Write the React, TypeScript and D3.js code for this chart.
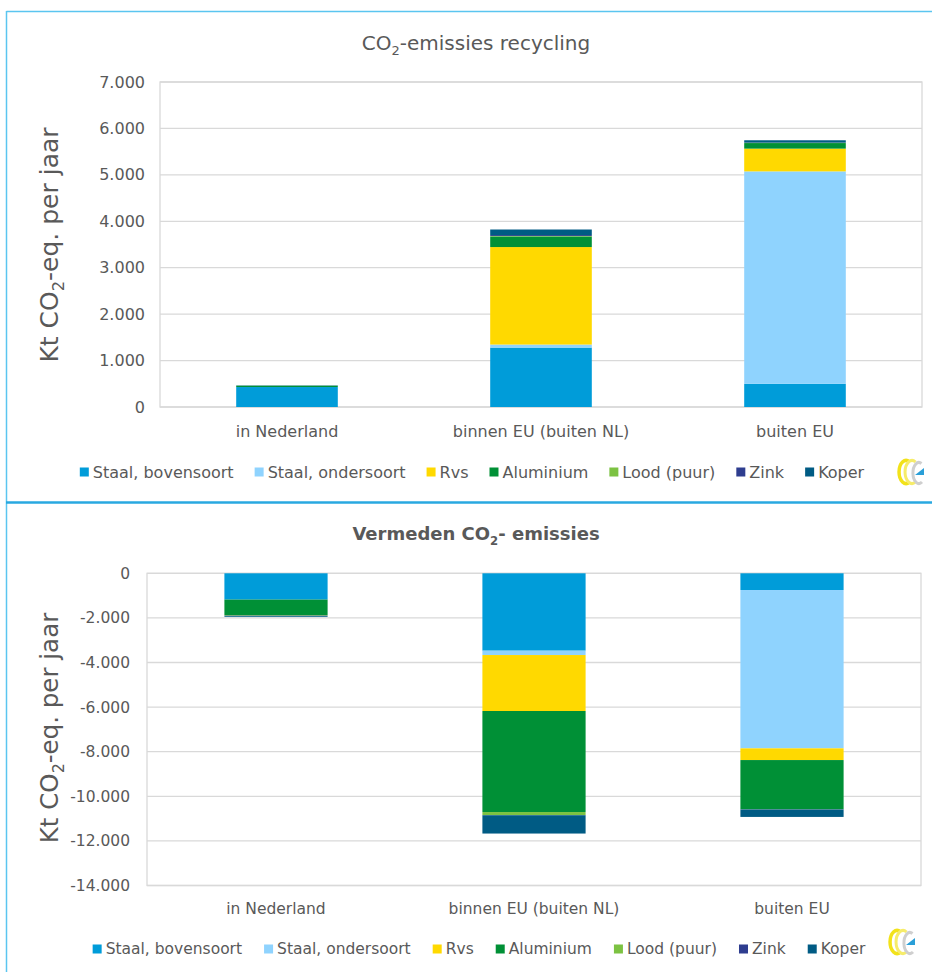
import React, { useEffect, useRef } from "react";
import * as d3 from "d3";

const categories = ["in Nederland", "binnen EU (buiten NL)", "buiten EU"];
const seriesNames = ["Staal, bovensoort", "Staal, ondersoort", "Rvs", "Aluminium", "Lood (puur)", "Zink", "Koper"];
const seriesColors = ["#009cd9", "#8fd3fe", "#ffd900", "#009036", "#7cc242", "#2e3d8f", "#005b84"];

// Top chart: CO2-emissies recycling (kt CO2-eq per jaar)
const recStaalBoven = [430, 1280, 500];
const recStaalOnder = [0, 65, 4575];
const recRvs = [0, 2100, 490];
const recAluminium = [30, 228, 120];
const recLood = [0, 10, 5];
const recZink = [0, 20, 5];
const recKoper = [5, 120, 50];
const recTicks = [0, 1000, 2000, 3000, 4000, 5000, 6000, 7000];

// Bottom chart: Vermeden CO2-emissies
const avStaalBoven = [-1180, -3470, -750];
const avStaalOnder = [0, -195, -7100];
const avRvs = [0, -2510, -525];
const avAluminium = [-690, -4530, -2210];
const avLood = [-30, -135, 0];
const avZink = [-10, -10, -10];
const avKoper = [-40, -820, -330];
const avTicks = [0, -2000, -4000, -6000, -8000, -10000, -12000, -14000];

const FONT = "DejaVu Sans";
const TXT = "#595959";

const nl = d3.formatLocale({ decimal: ",", thousands: ".", grouping: [3], currency: ["€", ""], minus: "-" });
const fmt = nl.format(",.0f");

function buildRows(series: number[][]) {
  return categories.map((c, i) => {
    const r: any = { cat: c };
    seriesNames.forEach((s, j) => (r[s] = series[j][i]));
    return r;
  });
}

function drawLogo(g: any, x: number, y: number) {
  const lg = g.append("g").attr("transform", `translate(${x},${y})`);
  lg.append("path").attr("d", "M13.5,3 A7,11.5 0 1 0 13.5,23")
    .attr("fill", "none").attr("stroke", "#f2e21a").attr("stroke-width", 3.5);
  lg.append("path").attr("d", "M19.5,3 A7,11.5 0 1 0 19.5,23")
    .attr("fill", "none").attr("stroke", "#f6ec6a").attr("stroke-width", 3);
  lg.append("path").attr("d", "M25.5,4.5 A6,10.5 0 1 0 26,23")
    .attr("fill", "none").attr("stroke", "#cfcfcf").attr("stroke-width", 3);
  lg.append("path").attr("d", "M19,16 L28,9 L28,16 Z").attr("fill", "#2a9fd8");
}

function drawChart(svg: any, cfg: any) {
  const g = svg.append("g");
  const x = d3.scaleBand().domain(categories).range([cfg.left, cfg.right]).paddingInner(0.6).paddingOuter(0.3);
  const y = d3.scaleLinear().domain(cfg.domain).range([cfg.bottom, cfg.top]);

  // gridlines
  g.selectAll(".grid").data(cfg.ticks).enter().append("line")
    .attr("x1", cfg.left).attr("x2", cfg.right)
    .attr("y1", (d: number) => y(d)).attr("y2", (d: number) => y(d))
    .attr("stroke", "#d9d9d9").attr("stroke-width", 1.3);
  g.append("rect").attr("x", cfg.left).attr("y", cfg.top).attr("width", cfg.right - cfg.left)
    .attr("height", cfg.bottom - cfg.top).attr("fill", "none").attr("stroke", "#d9d9d9").attr("stroke-width", 1.3);

  // tick labels
  g.selectAll(".tick").data(cfg.ticks).enter().append("text")
    .attr("x", cfg.tickX).attr("y", (d: number) => y(d)).attr("dy", "0.35em")
    .attr("text-anchor", "end").attr("font-family", FONT).attr("font-size", cfg.fs).attr("fill", TXT)
    .text((d: number) => fmt(d));

  // bars
  const rows = buildRows(cfg.series);
  const stack = d3.stack().keys(seriesNames).offset(d3.stackOffsetDiverging);
  const layers = stack(rows);
  layers.forEach((layer: any, i: number) => {
    g.selectAll(".b" + i).data(layer).enter().append("rect")
      .attr("x", (d: any) => x(d.data.cat))
      .attr("width", x.bandwidth())
      .attr("y", (d: any) => y(Math.max(d[0], d[1])))
      .attr("height", (d: any) => Math.abs(y(d[0]) - y(d[1])))
      .attr("fill", seriesColors[i]);
  });

  // category labels
  g.selectAll(".cat").data(categories).enter().append("text")
    .attr("x", (d: string) => (x(d) as number) + x.bandwidth() / 2).attr("y", cfg.catY)
    .attr("text-anchor", "middle").attr("font-family", FONT).attr("font-size", cfg.fs).attr("fill", TXT)
    .text((d: string) => d);

  // title
  const t = g.append("text").attr("x", cfg.titleX).attr("y", cfg.titleY).attr("text-anchor", "middle")
    .attr("font-family", FONT).attr("font-size", cfg.titleFs).attr("fill", TXT).attr("font-weight", cfg.titleWeight);
  t.append("tspan").text(cfg.titleA);
  t.append("tspan").text("2").attr("font-size", "0.65em").attr("dy", 5);
  t.append("tspan").text(cfg.titleB).attr("dy", -5);

  // y-axis title
  const yt = g.append("text").attr("transform", `translate(${cfg.yTitleX},${cfg.yTitleY}) rotate(-90)`)
    .attr("text-anchor", "middle").attr("font-family", FONT).attr("font-size", cfg.yTitleFs).attr("fill", TXT);
  yt.append("tspan").text("Kt CO");
  yt.append("tspan").text("2").attr("font-size", "0.65em").attr("dy", 6);
  yt.append("tspan").text("-eq. per jaar").attr("dy", -6);

  // legend
  const lg = g.append("g");
  const items: any[] = [];
  let cx = 0;
  seriesNames.forEach((s, i) => {
    const it = lg.append("g");
    it.append("rect").attr("x", 0).attr("y", -4.5).attr("width", 9).attr("height", 9).attr("fill", seriesColors[i]);
    const tx = it.append("text").attr("x", 13).attr("y", 0).attr("dy", "0.35em")
      .attr("font-family", FONT).attr("font-size", cfg.fs).attr("fill", TXT).text(s);
    const w = 13 + (tx.node() as SVGTextElement).getComputedTextLength();
    items.push({ it, off: cx });
    cx += w + cfg.legendGap;
  });
  const total = cx - cfg.legendGap;
  const start = cfg.legendCX - total / 2;
  items.forEach((d) => d.it.attr("transform", `translate(${start + d.off},${cfg.legendY})`));

  drawLogo(g, cfg.logoX, cfg.logoY);
}

export default function App() {
  const ref = useRef<SVGSVGElement>(null);
  useEffect(() => {
    const svg = d3.select(ref.current);
    svg.selectAll("*").remove();
    svg.append("rect").attr("width", 932).attr("height", 972).attr("fill", "#ffffff");

    drawChart(svg, {
      left: 160, right: 922, top: 82, bottom: 407, domain: [0, 7000], ticks: recTicks,
      series: [recStaalBoven, recStaalOnder, recRvs, recAluminium, recLood, recZink, recKoper],
      tickX: 145, catY: 437, fs: 16,
      titleX: 476, titleY: 50, titleFs: 20, titleWeight: "normal", titleA: "CO", titleB: "-emissies recycling",
      yTitleX: 58, yTitleY: 245, yTitleFs: 25, legendCX: 472, legendY: 472, legendGap: 21,
      logoX: 896, logoY: 459,
    });
    drawChart(svg, {
      left: 147, right: 921, top: 573.3, bottom: 885.5, domain: [-14000, 0], ticks: avTicks,
      series: [avStaalBoven, avStaalOnder, avRvs, avAluminium, avLood, avZink, avKoper],
      tickX: 130, catY: 914, fs: 15.5,
      titleX: 476, titleY: 540, titleFs: 18, titleWeight: "bold", titleA: "Vermeden CO", titleB: "- emissies",
      yTitleX: 58, yTitleY: 728, yTitleFs: 24.5, legendCX: 479, legendY: 949, legendGap: 22,
      logoX: 887, logoY: 929,
    });

    // panel frames
    svg.append("line").attr("x1", 6.5).attr("x2", 932).attr("y1", 11.5).attr("y2", 11.5)
      .attr("stroke", "#5bc5f0").attr("stroke-width", 1.5);
    svg.append("line").attr("x1", 6.5).attr("x2", 6.5).attr("y1", 11).attr("y2", 972)
      .attr("stroke", "#5bc5f0").attr("stroke-width", 1.5);
    svg.append("line").attr("x1", 6).attr("x2", 932).attr("y1", 502.5).attr("y2", 502.5)
      .attr("stroke", "#29a8e0").attr("stroke-width", 2.5);
  }, []);
  return (
    <svg ref={ref} width={932} height={972} style={{ position: "absolute", left: 0, top: 0, display: "block" }} />
  );
}
